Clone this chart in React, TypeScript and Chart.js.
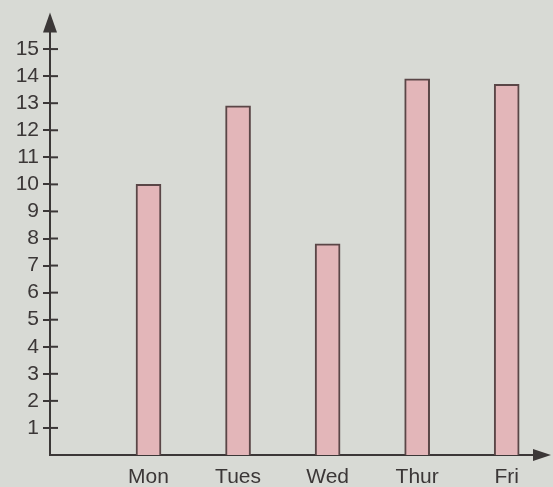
import React, { useEffect, useRef } from "react";
import { Chart, registerables } from "chart.js";

Chart.register(...registerables);

const days = ["Mon", "Tues", "Wed", "Thur", "Fri"];
const counts = [10, 12.9, 7.8, 13.9, 13.7];
const yTicks = [1, 2, 3, 4, 5, 6, 7, 8, 9, 10, 11, 12, 13, 14, 15];

const INK = "#3b3737";

const axisDecor = {
  id: "axisDecor",
  beforeDraw(chart: any) {
    const { ctx } = chart;
    ctx.save();
    ctx.fillStyle = "#d8dad5";
    ctx.fillRect(0, 0, chart.width, chart.height);
    ctx.restore();
  },
  afterDraw(chart: any) {
    const { ctx, chartArea } = chart;
    const y = chart.scales.y;
    ctx.save();
    ctx.strokeStyle = INK;
    ctx.lineWidth = 2;
    y.ticks.forEach((t: any) => {
      const py = y.getPixelForValue(t.value);
      ctx.beginPath();
      ctx.moveTo(chartArea.left - 1, py);
      ctx.lineTo(chartArea.left + 8, py);
      ctx.stroke();
    });
    ctx.fillStyle = INK;
    ctx.beginPath();
    ctx.moveTo(chartArea.left, chartArea.top - 4);
    ctx.lineTo(chartArea.left - 7, chartArea.top + 16);
    ctx.lineTo(chartArea.left + 7, chartArea.top + 16);
    ctx.closePath();
    ctx.fill();
    ctx.beginPath();
    ctx.moveTo(chartArea.right + 4, chartArea.bottom);
    ctx.lineTo(chartArea.right - 14, chartArea.bottom - 6);
    ctx.lineTo(chartArea.right - 14, chartArea.bottom + 6);
    ctx.closePath();
    ctx.fill();
    ctx.restore();
  },
};

export default function App() {
  const ref = useRef<HTMLCanvasElement>(null);
  useEffect(() => {
    if (!ref.current) return;
    const chart = new Chart(ref.current, {
      type: "bar",
      data: {
        datasets: [
          {
            data: counts.map((v, i) => ({ x: i, y: v })),
            backgroundColor: "#e3b6b9",
            borderColor: "#5a4647",
            borderWidth: 2,
            borderSkipped: "bottom",
            barThickness: 25,
          },
        ],
      },
      options: {
        animation: false,
        responsive: false,
        maintainAspectRatio: false,
        layout: { padding: { top: 12, right: 6, left: 0, bottom: 0 } },
        plugins: { legend: { display: false }, tooltip: { enabled: false } },
        scales: {
          x: {
            type: "linear",
            offset: false,
            min: -1.1,
            max: 4.45,
            afterBuildTicks: (s: any) => {
              s.ticks = days.map((_, i) => ({ value: i }));
            },
            afterFit: (s: any) => {
              s.height = 32;
            },
            ticks: {
              autoSkip: false,
              maxRotation: 0,
              padding: 10,
              color: INK,
              font: { family: "Liberation Sans, Arial, sans-serif", size: 21 },
              callback: (v: any) => days[v] ?? "",
            },
            grid: { display: true, drawOnChartArea: false, drawTicks: false },
            border: { display: true, color: INK, width: 2 },
          },
          y: {
            type: "linear",
            min: 0,
            max: 16.2,
            afterBuildTicks: (s: any) => {
              s.ticks = yTicks.map((v) => ({ value: v }));
            },
            afterFit: (s: any) => {
              s.width = 50;
            },
            ticks: {
              autoSkip: false,
              padding: 4,
              color: INK,
              font: { family: "Liberation Sans, Arial, sans-serif", size: 21 },
            },
            grid: {
              drawOnChartArea: false,
              drawTicks: true,
              tickLength: 7,
              color: INK,
              lineWidth: 2,
            },
            border: { display: true, color: INK, width: 2 },
          },
        },
      },
      plugins: [axisDecor],
    });
    return () => chart.destroy();
  }, []);
  return (
    <div style={{ position: "absolute", left: 0, top: 0, width: 553, height: 487 }}>
      <canvas ref={ref} width={553} height={487} />
    </div>
  );
}
